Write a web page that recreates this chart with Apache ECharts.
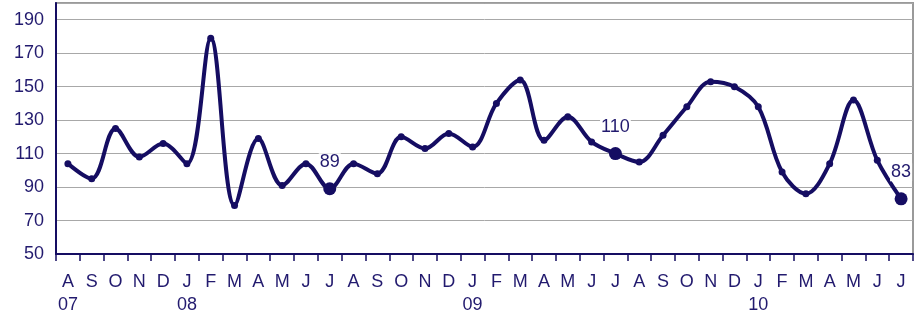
<!DOCTYPE html>
<html>
<head>
<meta charset="utf-8">
<script src="https://cdn.jsdelivr.net/npm/echarts@6/dist/echarts.min.js"></script>
<style>
html,body{margin:0;padding:0;background:#fff;}
#c{width:919px;height:315px;}
</style>
</head>
<body>
<div id="c"></div>
<script>
const months = ["A","S","O","N","D","J","F","M","A","M","J","J","A","S","O","N","D","J","F","M","A","M","J","J","A","S","O","N","D","J","F","M","A","M","J","J"];
const yearLabels = {0:"07",5:"08",17:"09",29:"10"};
const values = [104,95,125,108,116,104,179,79,119,91,104,89,104,98,120,113,122,114,140,154,118,132,117,110,105,121,138,153,150,138,99,86,104,142,106,83];
const highlighted = [11,23,35];
const yTicks = [50,70,90,110,130,150,170,190];

const navy = '#150d62';
const textNavy = '#221a6e';

const categories = months.map((m,i)=> yearLabels[i] !== undefined ? m + "\n" + yearLabels[i] : m);

const seriesData = values.map((v,i)=>{
  if (highlighted.indexOf(i) >= 0) {
    return {
      value: v,
      symbolSize: 13,
      label: {
        show: true,
        position: 'top',
        distance: 11,
        formatter: String(v),
        color: textNavy,
        fontSize: 18,
        fontFamily: 'Liberation Sans, Arial, sans-serif',
        backgroundColor: '#fff',
        padding: [0,1]
      }
    };
  }
  return { value: v };
});

const chart = echarts.init(document.getElementById('c'), null, {renderer:'canvas'});
chart.setOption({
  animation: false,
  grid: {left: 56, right: 6, top: 3, bottom: 61, show: true, borderColor: '#9a9a9a', borderWidth: 2, backgroundColor: '#fff', containLabel: false, outerBoundsMode: 'none'},
  xAxis: {
    type: 'category',
    data: categories,
    boundaryGap: true,
    axisLine: {lineStyle: {color: navy, width: 2}},
    axisTick: {show: true, alignWithLabel: false, length: 7, lineStyle: {color: navy, width: 1.5}},
    axisLabel: {interval: 0, color: textNavy, fontSize: 18, lineHeight: 23, margin: 17, fontFamily: 'Liberation Sans, Arial, sans-serif'},
    splitLine: {show: false}
  },
  yAxis: {
    type: 'value',
    min: 50,
    max: 200,
    interval: 20,
    axisLine: {show: true, lineStyle: {color: navy, width: 2}},
    axisTick: {show: false},
    axisLabel: {
      color: textNavy, fontSize: 18, margin: 12, fontFamily: 'Liberation Sans, Arial, sans-serif',
      formatter: function(v){ return yTicks.indexOf(v) >= 0 ? String(v) : ''; }
    },
    splitLine: {show: true, lineStyle: {color: '#a8a8a8', width: 1}}
  },
  series: [{
    type: 'line',
    data: seriesData,
    smooth: 0.35,
    symbol: 'circle',
    symbolSize: 7,
    showAllSymbol: true,
    lineStyle: {color: navy, width: 4},
    itemStyle: {color: navy},
    z: 5
  }]
});
</script>
</body>
</html>
